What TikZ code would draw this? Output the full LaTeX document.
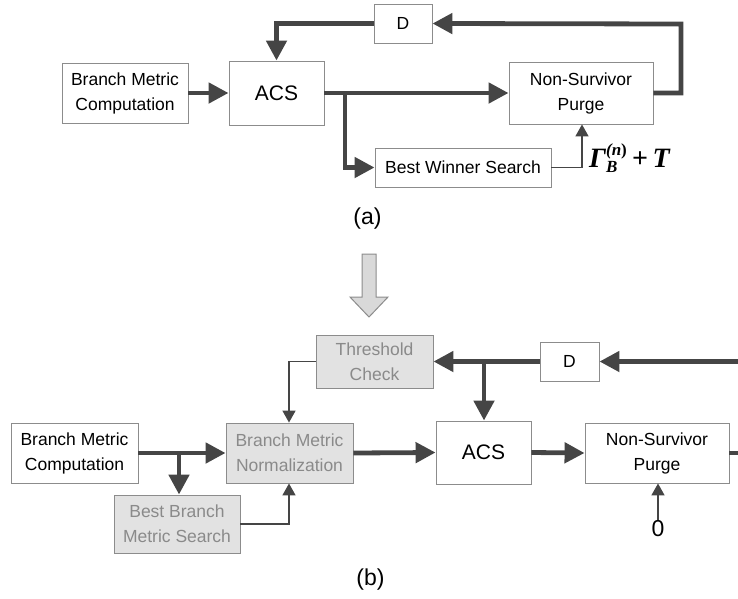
\documentclass[tikz,border=0pt]{standalone}
\usepackage{fontspec}
\setmainfont{Liberation Sans}
\newfontfamily\tnr{Liberation Serif}
\usetikzlibrary{arrows.meta}
\definecolor{linec}{HTML}{454545}
\definecolor{boxc}{HTML}{8C8C8C}
\definecolor{grayfill}{HTML}{E2E2E2}
\definecolor{graytext}{HTML}{8A8A8A}
\definecolor{bigfill}{HTML}{D9D9D9}
\tikzset{
  blk/.style={draw=boxc, line width=0.9pt, fill=white, align=center, inner sep=0pt,
    font=\fontsize{17.5}{25}\selectfont},
  gblk/.style={blk, fill=grayfill, text=graytext},
  thick line/.style={draw=linec, line width=4.8pt},
  thick arrow/.style={thick line, -{Triangle[length=20pt,width=20pt]}},
  thin line/.style={draw=linec, line width=1.7pt},
  thin arrow/.style={thin line, -{Triangle[length=12pt,width=13pt]}},
}
\begin{document}
\begin{tikzpicture}[x=1pt,y=-1pt]
\useasboundingbox (0,0) rectangle (738,598);
% ---------------- (a) ----------------
\node[blk, minimum width=126pt, minimum height=60pt] (bmca) at (125,93) {Branch Metric\\Computation};
\node[blk, minimum width=95pt, minimum height=64pt, font=\fontsize{21}{25}\selectfont] (acsa) at (276.5,93) {ACS};
\node[blk, minimum width=144pt, minimum height=62pt] (nspa) at (581,93) {Non-Survivor\\Purge};
\node[blk, minimum width=58pt, minimum height=39pt] (da) at (403,23.5) {D};
\node[blk, minimum width=176pt, minimum height=39pt] (bws) at (463,167.5) {Best Winner Search};
\node[inner sep=0pt, anchor=west] (gam) at (589,158) {\tnr\fontsize{28}{28}\selectfont\bfseries\itshape
  Γ$_{\hbox{\tnr\fontsize{17}{17}\selectfont\bfseries\itshape B}}^{\hbox{\tnr\fontsize{17}{17}\selectfont\bfseries(\itshape n\upshape)}}$\,{\upshape+}\,T};
\node[font=\fontsize{23}{25}\selectfont] (la) at (367.5,219) {(a)};

\coordinate (fa1) at (681,93);
\coordinate (fa2) at (681,24);
\coordinate (sa) at (345,93);
\coordinate (ta) at (582,167.5);

\draw[thick arrow] (bmca.east) -- (acsa.west);
\draw[thick arrow] (acsa.east) -- (nspa.west);
\draw[thick arrow] (nspa.east) -- (fa1) -- (fa2) -- (da.east);
\draw[thick arrow] (da.west) -| (acsa.north);
\draw[thick arrow] (sa) |- (bws.west);
\draw[thin arrow] (bws.east) -- (ta) -- (nspa.south -| ta);

% ---------------- big arrow ----------------
\draw[draw=boxc, fill=bigfill, line width=1pt, line join=miter]
  (362,254) -- (376,254) -- (376,297) -- (388,297) -- (369,317) -- (350,297) -- (362,297) -- cycle;

% ---------------- (b) ----------------
\node[blk, minimum width=127pt, minimum height=60pt] (bmcb) at (74.5,453) {Branch Metric\\Computation};
\node[gblk, minimum width=127pt, minimum height=60pt] (bmn) at (289.5,453) {Branch Metric\\Normalization};
\node[gblk, minimum width=126pt, minimum height=58pt] (bbms) at (177,524) {Best Branch\\Metric Search};
\node[gblk, minimum width=117pt, minimum height=53pt] (tc) at (374.5,361.5) {Threshold\\Check};
\node[blk, minimum width=59pt, minimum height=39pt] (db) at (569.5,361.5) {D};
\node[blk, minimum width=95pt, minimum height=63pt, font=\fontsize{21}{25}\selectfont] (acsb) at (483.5,452.5) {ACS};
\node[blk, minimum width=144pt, minimum height=60pt] (nspb) at (657,453) {Non-Survivor\\Purge};
\node[font=\fontsize{23}{24}\selectfont, inner sep=1pt] (zero) at (658,529) {0};
\node[font=\fontsize{23}{25}\selectfont] (lb) at (370.5,580) {(b)};

\coordinate (inr) at (738,361.5);
\coordinate (outr) at (738,453);
\coordinate (sb1) at (484,361.5);
\coordinate (sb2) at (179,453);
\coordinate (tcl) at (289,361.5);
\coordinate (bbr) at (289,524);

\draw[thick arrow] (inr) -- (db.east);
\draw[thick arrow] (db.west) -- (tc.east);
\draw[thick arrow] (sb1) -- (acsb.north -| sb1);
\draw[thin arrow] (tc.west) -- (tcl) -- (bmn.north -| tcl);
\draw[thick arrow] (bmcb.east) -- (bmn.west);
\draw[thick arrow] (sb2) -- (bbms.north -| sb2);
\draw[thin arrow] (bbms.east) -- (bbr) -- (bmn.south -| bbr);
\draw[thick arrow] (bmn.east) -- (acsb.west);
\draw[thick arrow] (acsb.east) -- (nspb.west);
\draw[thick line] (nspb.east) -- (outr);
\draw[thin arrow] (zero.north) -- (nspb.south -| zero.north);
\end{tikzpicture}
\end{document}
